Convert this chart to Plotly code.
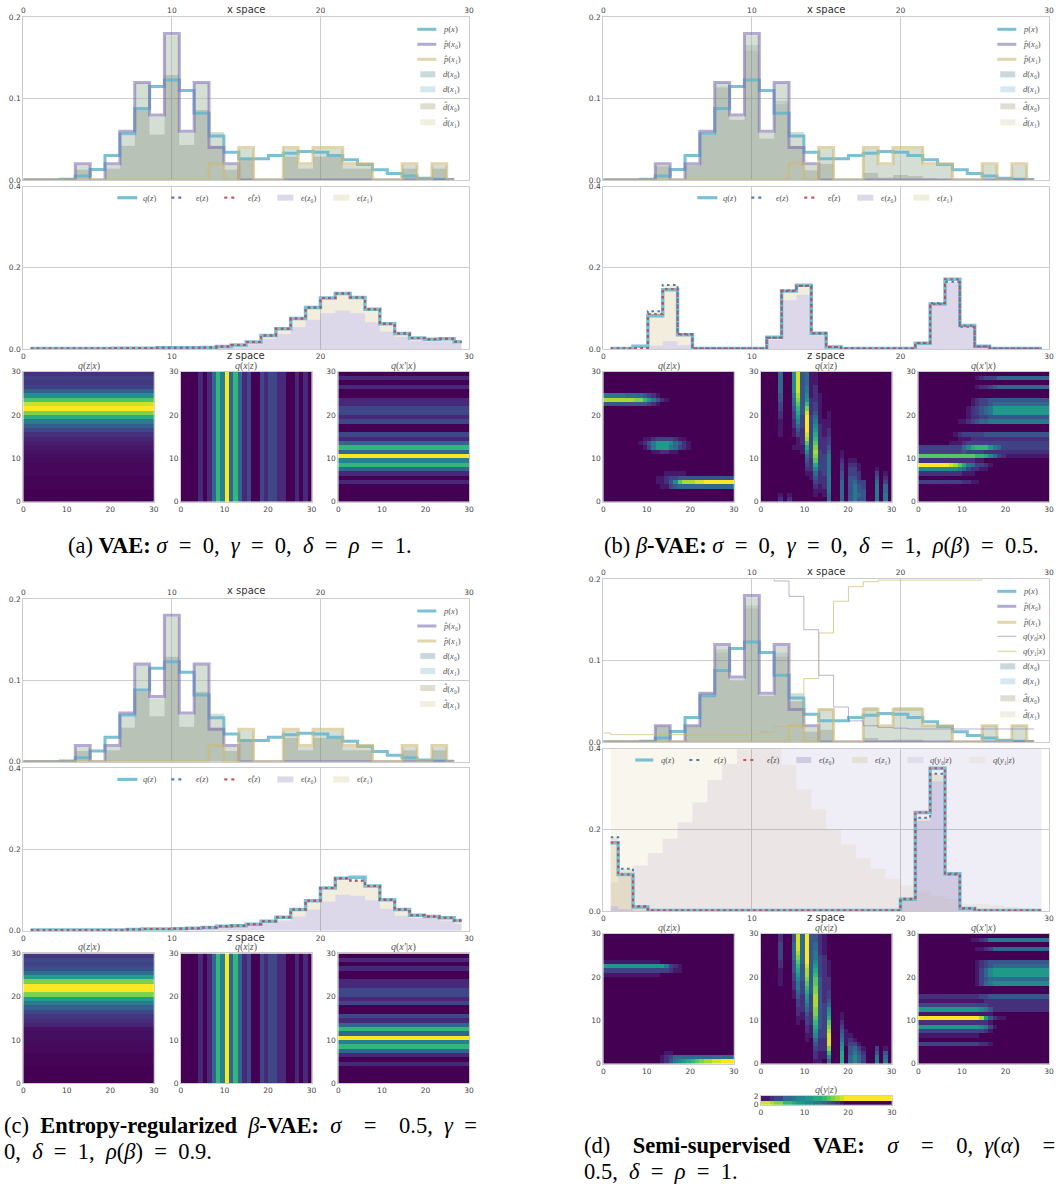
import plotly.graph_objects as go

W, H = 1058, 1187

X_BINS = list(range(30))
Z_BINS = [k + 0.5 for k in range(30)]
TICKS = [0, 10, 20, 30]

# ---------- x space (shared) ----------
P_X = [0, 0, 0, .001, .005, .013, .03, .057, .088, .115, .123, .11, .082, .054, .034,
       .026, .026, .03, .033, .035, .034, .03, .025, .019, .0125, .008, .005, .002, .001, .0005]
P_HAT_X0 = [0, 0, 0, 0, .02, 0, .02, .06, .12, .08, .18, .06, .12, .04, .02,
            0, 0, 0, 0, 0, 0, 0, 0, 0, 0, 0, 0, 0, 0, 0]
P_HAT_X1 = [0, 0, 0, 0, 0, 0, 0, 0, 0, 0, 0, 0, 0, .02, 0,
            .04, 0, 0, .04, .02, .04, .04, .02, .02, 0, 0, .02, 0, .02, 0]

TOP_A = [0, 0, 0, 0, .018, 0, .018, .055, .119, .078, .178, .058, .119, .059, .018,
         .038, 0, 0, .038, .018, .038, .038, .018, .018, 0, 0, .018, 0, .018, 0]
DARK_A = [0, 0, 0, 0, .013, 0, .014, .042, .086, .056, .129, .043, .086, .042, .013,
          .026, 0, 0, .029, .014, .029, .029, .014, .014, 0, 0, .014, 0, .014, 0]
DARK_B = [0, 0, 0, 0, .017, 0, .018, .055, .113, .074, .159, .051, .093, .042, .012,
          .020, 0, 0, .009, .003, .006, .005, .002, .001, 0, 0, 0, 0, 0, 0]
DARK_HAT_B = [0, 0, 0, 0, .017, 0, .018, .055, .115, .074, .166, .051, .097, .042, .012,
              .020, 0, 0, .009, .003, .006, .005, .002, .001, 0, 0, 0, 0, 0, 0]
TOP_D = [0, 0, 0, 0, .02, 0, .02, .06, .118, .078, .178, .058, .118, .06, .018,
         .04, 0, 0, .043, .018, .043, .043, .02, .02, 0, 0, .02, 0, .02, 0]
DARK_D = [0, 0, 0, 0, .018, 0, .018, .057, .110, .076, .164, .057, .105, .050, .013,
          .015, 0, 0, .005, .002, .003, .003, .001, .001, 0, 0, 0, 0, 0, 0]
DARK_HAT_D = [0, 0, 0, 0, .018, 0, .018, .057, .114, .076, .168, .057, .110, .050, .013,
              .015, 0, 0, .005, .002, .003, .003, .001, .001, 0, 0, 0, 0, 0, 0]
Q_Y0_X_D = [.205, .205, .205, .205, .205, .205, .205, .205, .205, .205, .205, .205, .198, .179, .138,
            .082, .043, .026, .02, .018, .017, .016, .016, .016, .016, .016, .016, .016, .016, .016]
Q_Y1_X_D = [.011, .009, .009, .009, .009, .009, .009, .009, .009, .009, .0095, .012, .019, .02, .078,
            .134, .173, .191, .197, .199, .199, .199, .199, .199, .199, .199, .205, .205, .205, .205]

# ---------- z space ----------
QZ_A = [.001, .001, .001, .001, .001, .001, .002, .002, .002, .003, .003, .003, .004, .006, .01,
        .017, .033, .05, .075, .102, .126, .137, .127, .098, .062, .038, .027, .024, .025, .018]
E0_A = [.001, .001, .001, .001, .001, .001, .001, .001, .001, .002, .002, .002, .003, .004, .007,
        .012, .025, .037, .054, .072, .088, .095, .088, .066, .043, .03, .021, .019, .019, .013]
QZ_B = [.001, .001, .007, .082, .146, .035, .001, .001, .001, .001, .001, .029, .143, .157, .039,
        .005, .001, .001, .001, .001, .001, .014, .111, .172, .058, .007, .001, .001, .001, .001]
EZ_B = [.001, .001, .002, .093, .158, .037, .001, .001, .001, .001, .001, .028, .143, .155, .039,
        .005, .001, .001, .001, .001, .001, .015, .113, .166, .055, .006, .001, .001, .001, .001]
EH_B = [.001, .001, .002, .086, .148, .036, .001, .001, .001, .001, .001, .028, .144, .156, .039,
        .005, .001, .001, .001, .001, .001, .015, .111, .172, .057, .006, .001, .001, .001, .001]
E0_B = [0, 0, 0, .008, .02, .009, 0, 0, 0, 0, 0, .023, .12, .134, .037,
        .005, 0, 0, 0, 0, 0, .014, .107, .165, .055, .006, 0, 0, 0, 0]
QZ_C = [.002, .002, .002, .002, .002, .002, .002, .003, .004, .004, .005, .006, .008, .011, .012,
        .016, .023, .033, .052, .074, .105, .129, .132, .11, .076, .052, .038, .035, .032, .025]
EZ_C = [.002, .002, .002, .002, .002, .002, .002, .003, .004, .004, .005, .006, .008, .011, .012,
        .016, .023, .033, .052, .074, .105, .129, .124, .11, .076, .052, .038, .035, .032, .025]
EH_C = [.002, .002, .002, .002, .002, .002, .002, .003, .004, .004, .005, .006, .008, .011, .012,
        .016, .023, .033, .052, .074, .105, .129, .123, .11, .076, .052, .038, .035, .032, .025]
E0_C = [.001, .001, .001, .001, .001, .001, .001, .002, .003, .003, .004, .004, .006, .008, .009,
        .013, .019, .025, .035, .052, .072, .089, .086, .075, .054, .037, .031, .03, .025, .017]
QZ_D = [.168, .09, .01, .001, .001, .001, .001, .001, .001, .001, .001, .001, .001, .001, .001,
        .001, .001, .001, .001, .001, .029, .243, .352, .092, .006, .001, .001, .001, .001, .001]
EZ_D = [.182, .104, .012, .001, .001, .001, .001, .001, .001, .001, .001, .001, .001, .001, .001,
        .001, .001, .001, .001, .001, .03, .23, .338, .09, .007, .001, .001, .001, .001, .001]
EH_D = [.168, .09, .011, .001, .001, .001, .001, .001, .001, .001, .001, .001, .001, .001, .001,
        .001, .001, .001, .001, .001, .029, .243, .352, .092, .006, .001, .001, .001, .001, .001]
E0_D = [.012, .005, .001, 0, 0, 0, 0, 0, 0, 0, 0, 0, 0, 0, 0,
        0, 0, 0, 0, 0, .028, .222, .32, .09, .006, 0, 0, 0, 0, 0]
Q_Y0_Z_D = [.07, .085, .112, .143, .178, .219, .268, .323, .362, .398, .45, .45, .45, .45, .45,
            .45, .45, .45, .45, .45, .45, .45, .45, .45, .45, .45, .45, .45, .45, .45]
Q_Y1_Z_D = [.45, .45, .45, .45, .45, .45, .45, .45, .45, .45, .45, .45, .36, .3, .25,
            .2, .164, .13, .104, .08, .063, .05, .038, .029, .018, .018, .014, .01, .006, .002]

# ---------- heatmaps: uniform profiles ----------
QZX_A_ROWS = [0, 0, 0, .01, .01, .01, .02, .02, .02, .03, .04, .05, .06, .08, .1,
              .14, .22, .3, .42, .62, .8, 1, .92, .72, .5, .3, .2, .17, .19, .14]
QZX_C_ROWS = [0, 0, 0, 0, .01, .01, .01, .02, .02, .03, .04, .04, .05, .1, .13,
              .16, .22, .3, .42, .55, .8, 1, 1, .8, .56, .36, .24, .2, .22, .16]
BANDS = [0, 0, 0, 0, .11, 0, .11, .33, .66, .44, 1, .33, .66, .33, .11,
         .22, 0, 0, .22, .11, .22, .22, .11, .11, 0, 0, .11, 0, .11, 0]

# ---------- heatmaps: sparse rows, bottom to top, "col:level" in hex of fifteen ----------
QZX_B = ["", "", "", "13-14:1 15:3 16:4 17-29:5", "12-13:1 14:2 15:4 16:7 17:b 18-20:d 21-22:e 23-29:f",
         "12-13:1 14:2 15-16:3 17-29:4", "14-18:1", "", "", "", "",
         "11-12:1 13-14:2 15-16:1", "9:1 10:3 11:6 12-14:8 15:6 16:5 17:3 18:2 19:1",
         "8:1 9:2 10:4 11:6 12-14:8 15:7 16:5 17:4 18:2 19:1", "9-10:1 11:2 12-15:3 16:2 17-18:1",
         "", "", "", "", "", "", "", "0-9:4 10:3 11:2 12:1",
         "0-6:d 7-8:c 9:a 10:8 11:6 12:4 13:2 14:1", "0-4:6 5-8:5 9:4 10:3 11:2 12:1", "", "", "", "", ""]
QXZ_B = ["4:2 6:2 15:5 18:5 20:4 21:6 22:4 23:4 26:6 28:6",
         "4:1 6:1 12:1 14:1 15:5 18:5 20:4 21:6 22:5 23:4 26:6 28:6",
         "12:1 13:1 14:1 15:6 18:5 20:4 21:6 22:4 23:4 26:6 28:5",
         "12:2 13:1 14:2 15:6 18:5 20:4 21:6 22:4 23:3 26:6 28:5",
         "12:3 13:2 14:2 15:6 18:5 20:4 21:5 22:3 23:3 26:5 28:3",
         "11:1 12:4 13:2 14:2 15:6 18:4 20:4 21:4 22:2 26:4 28:2",
         "10:1 11:1 12:5 13:2 14:3 15:6 18:4 20:3 21:3 22:2 26:3 28:1",
         "10:2 11:2 12:7 13:3 14:3 15:6 18:3 20:3 21:3 22:1 26:1",
         "10:3 11:2 12:9 13:3 14:3 15:6 18:3 20:2 21:2 22:1",
         "10:4 11:2 12:b 13:3 14:3 15:6 18:2 20:1 21:1",
         "10:5 11:3 12:c 13:3 14:3 15:6 18:1",
         "9:1 10:7 11:3 12:d 13:3 14:2 15:5 18:1",
         "7:1 8:1 9:1 10:9 11:3 12:c 13:2 14:2 15:4",
         "8:1 9:2 10:b 11:3 12:b 13:2 14:2 15:3",
         "8:1 9:2 10:d 11:3 12:a 13:2 14:2 15:3",
         "4:1 7:1 8:3 9:2 10:e 11:3 12:9 13:2 14:1 15:2",
         "4:1 7:1 8:4 9:2 10:f 11:3 12:8 13:2 14:1 15:2",
         "4:1 7:2 8:5 9:3 10:f 11:3 12:7 13:2 14:1 15:1",
         "4:1 7:2 8:7 9:3 10:f 11:3 12:6 13:1 14:1 15:1",
         "4:2 7:3 8:8 9:3 10:f 11:3 12:5 13:1 15:1",
         "4:2 7:3 8:9 9:4 10:e 11:2 12:4 13:1 15:1",
         "4:3 7:4 8:a 9:4 10:c 11:2 12:3 13:1",
         "4:3 7:5 8:b 9:4 10:a 11:2 12:3 13:1",
         "4:4 7:5 8:c 9:4 10:8 11:2 12:2 13:1",
         "4:4 7:6 8:d 9:4 10:7 11:1 12:2 13:1",
         "4:5 7:7 8:e 9:4 10:6 11:1 12:2",
         "4:5 7:7 8:e 9:4 10:6 11:1 12:2",
         "4:5 7:7 8:e 9:4 10:5 11:1 12:1",
         "4:5 7:7 8:e 9:4 10:5 11:1 12:1",
         "4:5 7:7 8:e 9:4 10:5 11:1 12:1"]
QPX_B = ["", "", "", "", "0-9:3 10-11:2 12-13:1", "", "0-9:2 10-12:1",
         "0-8:7 9:6 10:5 11:3 12-13:2 14-15:1",
         "0-6:f 7:e 8:d 9:b 10:9 11:6 12:5 13-14:3 15:2 16:1",
         "0-12:2 13-14:1",
         "0-11:b 12:b 13-14:a 15:9 16:7 17:5 18:3 19:2 20-29:1",
         "0-9:3 10:4 11-14:3 15-29:2",
         "0-9:3 10:5 11:7 12:9 13-15:a 16:8 17:6 18:5 19-29:3",
         "7-9:1 10:2 11-29:3", "9-11:1 12-29:2", "8:1 9:2 10-14:3 15-29:4",
         "", "",
         "9-10:1 11:2 12:3 13:4 14-15:5 16-29:6",
         "11:1 12-13:2 14-15:3 16-29:4",
         "11:1 12:2 13:3 14:4 15:5 16:6 17-29:8",
         "11:1 12:2 13:3 14:4 15:5 16:6 17-29:8",
         "12:1 13:2 14-15:3 16:4 17-29:5",
         "12:1 13:2 14-15:3 16-29:4", "", "",
         "13:1 14-15:2 16:3 17:4 18-29:5", "",
         "13:1 14:2 15-17:3 18-29:5", ""]
QZX_D = ["13:1 14:2 15:4 16:6 17:7 18:8 19:9 20:a 21:b 22:c 23-24:d 25-26:e 27-29:f",
         "13:1 14:2 15:3 16-29:5", "14-15:1", "", "", "", "", "", "", "", "", "", "", "", "", "",
         "", "", "", "", "0-12:1", "0-14:3 15:2 16-17:1", "0-13:8 14:6 15:3 16:2 17:1", "0-12:1",
         "", "", "", "", "", ""]
QXZ_D = ["12:1 13:1 15:5 18:9 20:5 21:7 22:5 23:3 26:6 28:6",
         "12:2 13:1 14:1 15:7 18:9 20:5 21:7 22:5 23:3 26:6 28:5",
         "12:2 13:1 14:1 15:a 18:9 20:4 21:6 22:4 23:2 26:4 28:4",
         "12:3 13:2 14:2 15:c 18:8 20:4 21:5 22:3 23:1 26:3 28:1",
         "12:4 13:2 14:2 15:e 18:7 19:1 20:3 21:3 22:1",
         "10:1 12:5 13:2 14:2 15:e 18:6 19:1 20:2 21:1",
         "10:1 11:1 12:7 13:3 14:3 15:e 18:5 19:1 20:1",
         "10:2 11:1 12:8 13:3 14:3 15:d 18:4 19:1",
         "10:2 11:1 12:9 13:4 14:3 15:c 18:3",
         "8:1 10:3 11:2 12:a 13:4 14:3 15:b 18:2",
         "8:1 9:1 10:3 11:2 12:b 13:4 14:3 15:9 18:1",
         "8:2 9:1 10:4 11:2 12:c 13:4 14:3 15:8 18:1",
         "8:2 9:2 10:5 11:3 12:c 13:4 14:3 15:7",
         "8:3 9:2 10:6 11:3 12:d 13:4 14:3 15:5",
         "8:3 9:2 10:7 11:3 12:d 13:4 14:2 15:4",
         "7:1 8:4 9:2 10:8 11:3 12:d 13:4 14:2 15:3",
         "7:1 8:5 9:3 10:9 11:4 12:c 13:4 14:2 15:3",
         "7:2 8:6 9:3 10:a 11:4 12:c 13:4 14:2 15:2",
         "4:1 7:2 8:6 9:3 10:b 11:4 12:b 13:4 14:2 15:2",
         "4:1 7:3 8:7 9:4 10:c 11:4 12:b 13:4 14:2 15:2",
         "4:1 7:3 8:8 9:4 10:d 11:4 12:a 13:3 14:2 15:1",
         "4:1 7:4 8:9 9:4 10:d 11:4 12:9 13:3 14:2 15:1",
         "4:2 7:4 8:a 9:4 10:e 11:4 12:8 13:3 14:2 15:1",
         "4:2 7:4 8:b 9:5 10:f 11:4 12:7 13:3 14:2 15:1",
         "4:3 7:5 8:c 9:5 10:f 11:4 12:6 13:3 14:2",
         "4:3 7:5 8:d 9:5 10:f 11:4 12:6 13:2 14:1",
         "4:3 7:5 8:e 9:5 10:f 11:4 12:5 13:2 14:1",
         "4:3 7:5 8:e 9:5 10:f 11:4 12:5 13:2 14:1",
         "4:2 7:4 8:e 9:5 10:f 11:4 12:4 13:2 14:1",
         "4:2 7:4 8:e 9:5 10:f 11:4 12:4 13:2 14:1"]
QPX_D = ["", "", "", "", "0-13:3 14-15:2 16:1", "", "0-13:1",
         "0-13:3 14:3 15:2 16:1", "0-13:8 14:7 15:6 16:3 17:1", "0-15:2 16:1",
         "0-13:f 14:d 15:8 16:4 17:2 18-19:1", "0-16:1",
         "0-13:8 14:7 15:6 16:4 17-29:2", "0-15:3 16-29:2", "0-14:1 15-29:2",
         "0-13:2 14-15:3 16-29:4", "", "",
         "13:1 14:3 15:5 16:6 17-29:7", "13:1 14:3 15:4 16-29:5",
         "13:1 14:3 15:5 16:7 17-29:8", "13:1 14:3 15:5 16:7 17-29:8",
         "13:1 14:2 15:3 16:4 17-29:5", "13:1 14:2 15:3 16-29:4", "", "",
         "13-14:1 15:2 16:3 17-29:5", "", "12-13:1 14:2 15:3 16-29:6", ""]
QYZ_D = ["0-1:e 2:d 3-4:c 5-6:a 7:9 8-9:8 10-11:7 12-13:6 14:5 15:4 16:3 17:2 18:1",
         "0-1:1 2:2 3-4:3 5-6:5 7:6 8-9:7 10-11:8 12-13:9 14:a 15:b 16:c 17:d 18:e 19-29:f"]

# ---------- text ----------
X_LEGEND = ["<i>p</i>(<i>x</i>)", "<i>p̂</i>(<i>x</i>₀)", "<i>p̂</i>(<i>x</i>₁)"]
Q_Y_X_LEGEND = ["<i>q</i>(<i>y</i>₀|<i>x</i>)", "<i>q</i>(<i>y</i>₁|<i>x</i>)"]
D_LEGEND = ["<i>d</i>(<i>x</i>₀)", "<i>d</i>(<i>x</i>₁)", "<i>d̂</i>(<i>x</i>₀)", "<i>d̂</i>(<i>x</i>₁)"]
Z_LEGEND = ["<i>q</i>(<i>z</i>)", "<i>ϵ</i>(<i>z</i>)", "<i>ϵ̂</i>(<i>z</i>)", "<i>ϵ</i>(<i>z</i>₀)", "<i>ϵ</i>(<i>z</i>₁)"]
Q_Y_Z_LEGEND = ["<i>q</i>(<i>y</i>₀|<i>z</i>)", "<i>q</i>(<i>y</i>₁|<i>z</i>)"]
HEAT_TITLES = ["<i>q</i>(<i>z</i>|<i>x</i>)", "<i>q</i>(<i>x</i>|<i>z</i>)", "<i>q</i>(<i>x′</i>|<i>x</i>)"]
EN = "\u2002"
CAPTION_A = f"(a) <b>VAE:</b> <i>σ</i>{EN}={EN}0,{EN}<i>γ</i>{EN}={EN}0,{EN}<i>δ</i>{EN}={EN}<i>ρ</i>{EN}={EN}1."
CAPTION_B = (f"(b) <i>β</i><b>-VAE:</b> <i>σ</i>{EN}={EN}0,{EN}<i>γ</i>{EN}={EN}0,{EN}"
             f"<i>δ</i>{EN}={EN}1,{EN}<i>ρ</i>(<i>β</i>){EN}={EN}0.5.")
CAPTION_C1 = (f"(c){EN}<b>Entropy-regularized</b>{EN}<i>β</i><b>-VAE:</b>{EN}<i>σ</i>{EN}{EN}={EN}{EN}0.5,"
              f"{EN}<i>γ</i>{EN}=")
CAPTION_C2 = f"0,{EN}<i>δ</i>{EN}={EN}1,{EN}<i>ρ</i>(<i>β</i>){EN}={EN}0.9."
CAPTION_D1 = (f"(d){EN}{EN}<b>Semi-supervised{EN}{EN}VAE:</b>{EN}{EN}<i>σ</i>{EN}{EN}={EN}{EN}0,{EN}"
              f"<i>γ</i>(<i>α</i>){EN}{EN}=")
CAPTION_D2 = f"0.5,{EN}<i>δ</i>{EN}={EN}<i>ρ</i>{EN}={EN}1."

# ---------- styles ----------
CYAN = "rgba(100,181,205,0.85)"
PURPLE = "rgba(129,114,178,0.6)"
TAN = "rgba(204,185,116,0.6)"
THIN_PURPLE = "rgba(129,114,178,0.55)"
THIN_TAN = "rgba(204,185,116,0.7)"
BLUE = "rgba(76,114,176,0.95)"
RED = "rgba(196,78,82,0.95)"
D0_C = "rgba(72,125,138,0.3)"
D1_C = "rgba(115,178,205,0.3)"
DH0_C = "rgba(148,142,98,0.3)"
DH1_C = "rgba(212,198,152,0.3)"
E0_COL = "rgba(129,114,178,0.28)"
E1_COL = "rgba(204,185,116,0.25)"
QY0_COL = "rgba(129,114,178,0.13)"
QY1_COL = "rgba(204,185,116,0.12)"
GRID = "#cccccc"
TICK_FONT = dict(family="DejaVu Sans", size=7.5, color="#444444")
LEG_FONT = dict(family="Liberation Serif", size=8.5, color="#555555")
HT_FONT = dict(family="Liberation Serif", size=10, color="#555555")
CAP_FONT = dict(family="Liberation Serif", size=22.5, color="#000000")
SP_FONT = dict(family="DejaVu Sans", size=10, color="#333333")
DOT = "2.5px,3.5px"


def parse_rows(spec):
    out = []
    for row in spec:
        vals = [0.0] * 30
        for tok in row.split():
            cols, lev = tok.split(":")
            a, _, b = cols.partition("-")
            for c in range(int(a), int(b or a) + 1):
                vals[c] = int(lev, 16) / 15
        out.append(vals)
    return out


fig = go.Figure()
axes = {}
annots = []
shapes = []
n_axes = [0]


def px(x):
    return x / W


def py(y):
    return 1 - y / H


def new_axes(x0, x1, y0, y1, xkw, ykw):
    n_axes[0] += 1
    n = n_axes[0]
    sfx = "" if n == 1 else str(n)
    base = dict(showline=True, mirror=True, linecolor=GRID, linewidth=1, ticks="",
                tickfont=TICK_FONT, zeroline=False, fixedrange=True)
    axes["xaxis" + sfx] = dict(base, domain=[px(x0), px(x1)], anchor="y" + sfx, **xkw)
    axes["yaxis" + sfx] = dict(base, domain=[py(y1), py(y0)], anchor="x" + sfx, **ykw)
    return "x" + sfx, "y" + sfx


def text(x, y, s, font, xanchor="left"):
    annots.append(dict(xref="paper", yref="paper", x=px(x), y=py(y), text=s, font=font,
                       showarrow=False, xanchor=xanchor, yanchor="middle",
                       borderpad=0, align="left"))


def key_line(x0, x1, y, color, width, dash="solid"):
    shapes.append(dict(type="line", xref="paper", yref="paper", x0=px(x0), x1=px(x1), y0=py(y), y1=py(y),
                       line=dict(color=color, width=width, dash=dash)))


def key_patch(x0, x1, y, color):
    shapes.append(dict(type="rect", xref="paper", yref="paper", x0=px(x0), x1=px(x1), y0=py(y - 3), y1=py(y + 3),
                       fillcolor=color, line=dict(width=0)))


def add_step(xa, ya, xs, ys, name, color, width, dash="solid"):
    fig.add_trace(go.Scatter(x=xs, y=ys, mode="lines", name=name, xaxis=xa, yaxis=ya, showlegend=False,
                             hoverinfo="skip", line=dict(shape="hvh", color=color, width=width, dash=dash)))


def add_fill(xa, ya, xs, ys, name, color, fill):
    fig.add_trace(go.Scatter(x=xs, y=ys, mode="lines", name=name, xaxis=xa, yaxis=ya, showlegend=False,
                             hoverinfo="skip", line=dict(shape="hvh", width=0, color=color),
                             fill=fill, fillcolor=color))


def add_heat(xa, ya, matrix, name):
    ys = [k + 0.5 for k in range(len(matrix))]
    fig.add_trace(go.Heatmap(x=Z_BINS, y=ys, z=matrix, colorscale="Viridis", zmin=0, zmax=1, showscale=False,
                             xaxis=xa, yaxis=ya, name=name, hoverinfo="skip"))


def panel(L, dy, d, dh, d_top, dh_top, qz, ez, eh, e0, e_top, mats, q_y_x=None, q_y_z=None):
    R = L + 445.7
    # x space
    xa, ya = new_axes(L, R, 17.3 + dy, 180 + dy,
                      dict(range=[0, 30], side="top", tickvals=TICKS, showgrid=True, gridcolor=GRID),
                      dict(range=[0, 0.2], tickvals=[0, .1, .2], tickformat=".1f", showgrid=True, gridcolor=GRID))
    add_fill(xa, ya, X_BINS, d, "d(x0)", D0_C, "tozeroy")
    add_fill(xa, ya, X_BINS, d_top, "d(x1)", D1_C, "tonexty")
    add_fill(xa, ya, X_BINS, dh, "d^(x0)", DH0_C, "tozeroy")
    add_fill(xa, ya, X_BINS, dh_top, "d^(x1)", DH1_C, "tonexty")
    add_step(xa, ya, X_BINS, P_X, "p(x)", CYAN, 3)
    add_step(xa, ya, X_BINS, P_HAT_X0, "p^(x0)", PURPLE, 3)
    add_step(xa, ya, X_BINS, P_HAT_X1, "p^(x1)", TAN, 3)
    if q_y_x:
        add_step(xa, ya, X_BINS, q_y_x[0], "q(y0|x)", THIN_PURPLE, 1)
        add_step(xa, ya, X_BINS, q_y_x[1], "q(y1|x)", THIN_TAN, 1)
    text(L + 223, 9 + dy, "x space", SP_FONT, "center")

    # x legend
    top = 17.3 + dy
    k0, k1, t0 = L + 394, L + 413, L + 419
    if q_y_x:
        rows_y = [12, 27, 43, 57, 72, 87, 102, 119, 135]
    else:
        rows_y = [12, 27, 42, 57, 72, 89, 105]
    i = 0
    for lab, col in zip(X_LEGEND, [CYAN, PURPLE, TAN]):
        key_line(k0, k1, top + rows_y[i], col, 3)
        text(t0, top + rows_y[i], lab, LEG_FONT)
        i += 1
    if q_y_x:
        for lab, col in zip(Q_Y_X_LEGEND, [THIN_PURPLE, THIN_TAN]):
            key_line(k0, k1, top + rows_y[i], col, 1)
            text(t0, top + rows_y[i], lab, LEG_FONT)
            i += 1
    for lab, col in zip(D_LEGEND, [D0_C, D1_C, DH0_C, DH1_C]):
        key_patch(k0 + 3, k1 - 1, top + rows_y[i], col)
        text(t0, top + rows_y[i], lab, LEG_FONT)
        i += 1

    # z space
    xa, ya = new_axes(L, R, 186.7 + dy, 349 + dy,
                      dict(range=[0, 30], tickvals=TICKS, showgrid=True, gridcolor=GRID),
                      dict(range=[0, 0.4], tickvals=[0, .2, .4], tickformat=".1f", showgrid=True, gridcolor=GRID))
    if q_y_z:
        add_fill(xa, ya, Z_BINS, q_y_z[0], "q(y0|z)", QY0_COL, "tozeroy")
        add_fill(xa, ya, Z_BINS, q_y_z[1], "q(y1|z)", QY1_COL, "tozeroy")
    add_fill(xa, ya, Z_BINS, e0, "e(z0)", E0_COL, "tozeroy")
    add_fill(xa, ya, Z_BINS, e_top, "e(z1)", E1_COL, "tonexty")
    add_step(xa, ya, Z_BINS, qz, "q(z)", CYAN, 3.5)
    add_step(xa, ya, Z_BINS, ez, "e(z)", BLUE, 2, DOT)
    add_step(xa, ya, Z_BINS, eh, "e^(z)", RED, 2, DOT)
    text(L + 223, 355.7 + dy, "z space", SP_FONT, "center")

    # z legend
    zy = 197.7 + dy
    if q_y_z:
        zy = 760
        pos = [(32, 50, 57), (86, 100, 110), (140, 154, 163), (193, 208, 215), (249, 264, 271)]
    else:
        pos = [(94, 114, 119), (148, 162, 172), (201, 215, 224), (254, 270, 277), (310, 326, 333)]
    for j, (lab, (a, b, t)) in enumerate(zip(Z_LEGEND, pos)):
        if j == 0:
            key_line(L + a, L + b, zy, CYAN, 3.2)
        elif j == 1:
            key_line(L + a, L + b, zy, BLUE, 2.2, "3px,4px")
        elif j == 2:
            key_line(L + a, L + b, zy, RED, 2.2, "3px,4px")
        else:
            key_patch(L + a, L + b, zy, [E0_COL, E1_COL][j - 3])
        text(L + t, zy, lab, LEG_FONT)
    if q_y_z:
        for lab, col, (a, b, t) in zip(Q_Y_Z_LEGEND, [QY0_COL, QY1_COL], [(304, 320, 326), (366, 382, 389)]):
            key_patch(L + a, L + b, zy, col)
            text(L + t, zy, lab, LEG_FONT)

    # heatmaps
    for (o0, o1), mat, title in zip([(0, 130.5), (157.7, 288.2), (315, 445.7)], mats, HEAT_TITLES):
        xa, ya = new_axes(L + o0, L + o1, 371.7 + dy, 501.7 + dy,
                          dict(range=[0, 30], tickvals=TICKS, showgrid=False),
                          dict(range=[0, 30], tickvals=TICKS, showgrid=False))
        add_heat(xa, ya, mat, title)
        text(L + (o0 + o1) / 2, 365.7 + dy, title, HT_FONT, "center")


MAT_BANDS_H = [[v] * 30 for v in BANDS]
MAT_BANDS_V = [BANDS for _ in range(30)]

panel(23.3, 0, DARK_A, DARK_A, TOP_A, TOP_A, QZ_A, QZ_A, QZ_A, E0_A, QZ_A,
      [[[v] * 30 for v in QZX_A_ROWS], MAT_BANDS_V, MAT_BANDS_H])
panel(603.3, 0, DARK_B, DARK_HAT_B, TOP_A, TOP_A, QZ_B, EZ_B, EH_B, E0_B, EZ_B,
      [parse_rows(QZX_B), parse_rows(QXZ_B), parse_rows(QPX_B)])
panel(23.3, 581.7, DARK_A, DARK_A, TOP_A, TOP_A, QZ_C, EZ_C, EH_C, E0_C, EH_C,
      [[[v] * 30 for v in QZX_C_ROWS], MAT_BANDS_V, MAT_BANDS_H])
panel(603.3, 562, DARK_D, DARK_HAT_D, TOP_D, TOP_D, QZ_D, EZ_D, EH_D, E0_D, EZ_D,
      [parse_rows(QZX_D), parse_rows(QXZ_D), parse_rows(QPX_D)],
      q_y_x=(Q_Y0_X_D, Q_Y1_X_D), q_y_z=(Q_Y0_Z_D, Q_Y1_Z_D))

# q(y|z) strip of panel d
xa, ya = new_axes(761, 891.7, 1096, 1104.7,
                  dict(range=[0, 30], tickvals=TICKS, showgrid=False),
                  dict(range=[0, 2], tickvals=[0, 2], showgrid=False))
add_heat(xa, ya, parse_rows(QYZ_D), "q(y|z)")
text(826.3, 1090, "<i>q</i>(<i>y</i>|<i>z</i>)", HT_FONT, "center")

# captions
text(240, 545, CAPTION_A, CAP_FONT, "center")
text(821, 545, CAPTION_B, CAP_FONT, "center")
text(3, 1125.7, CAPTION_C1, CAP_FONT)
text(3, 1151.7, CAPTION_C2, CAP_FONT)
text(583, 1145, CAPTION_D1, CAP_FONT)
text(583, 1171.6, CAPTION_D2, CAP_FONT)

fig.update_layout(width=W, height=H, autosize=False,
                  margin=dict(l=0, r=0, t=0, b=0, pad=0, autoexpand=False),
                  paper_bgcolor="white", plot_bgcolor="white", showlegend=False,
                  annotations=annots, shapes=shapes, **axes)

fig.write_html("out.html", config=dict(displayModeBar=False, responsive=False),
               post_script="document.body.style.margin='0';")
